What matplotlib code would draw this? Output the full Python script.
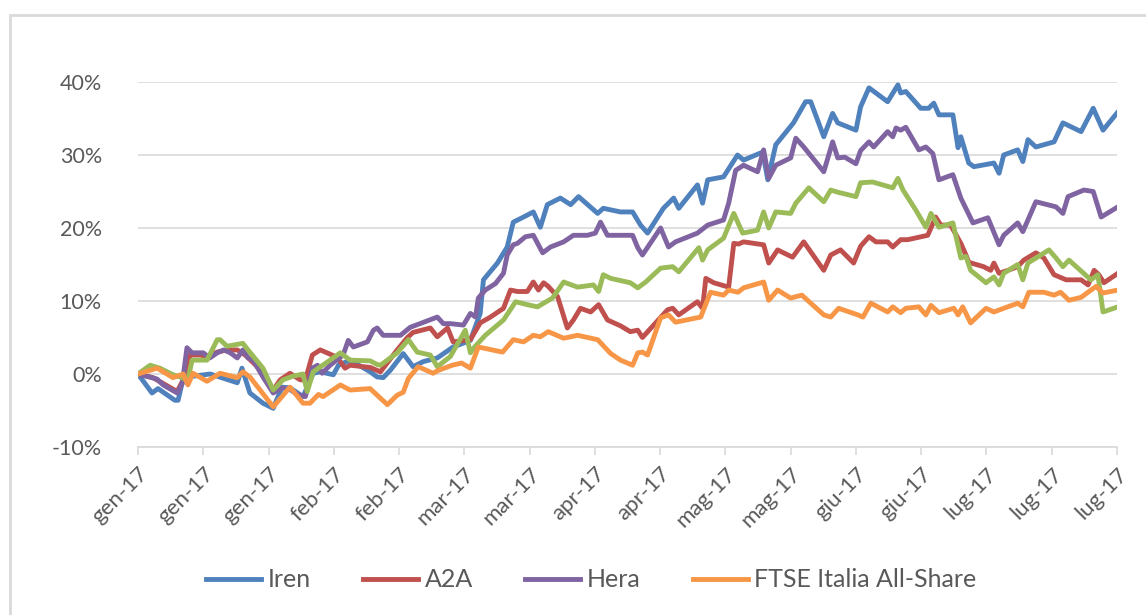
import numpy as np
import matplotlib
matplotlib.use('Agg')
import matplotlib.pyplot as plt
from matplotlib.patches import Rectangle

plt.rcParams['font.family'] = ['Lato', 'DejaVu Sans']

# days since 2 Jan 2017 and returns in %
iren_days = [0, 3, 4.3, 7.9, 8.6, 9.7, 11.8, 15.5, 21.3, 22.3, 24, 26.8, 29, 30.9, 32.6, 35.4, 37.6, 39.1,
             41.9, 43, 45.5, 49.8, 51.3, 52.6, 54.1, 56.9, 59, 61.2, 64.2, 67.6, 71.3, 73.4, 74.1, 77.1,
             79.2, 80.5, 82.7, 84.8, 86.3, 87.8, 90.6, 92.8, 94.5, 98.6, 99.8, 103.5, 106.1, 107.8, 109.3,
             112.7, 114.9, 116, 120, 121.1, 122.2, 125.6, 128.6, 129.9, 134, 135.1, 136.8, 140.6, 143.2,
             144.3, 147.1, 149, 150.1, 154, 155, 156.8, 160.8, 163, 163.6, 164.7, 167.9, 169.6, 170.7,
             171.8, 174.8, 175.9, 176.5, 178.2, 179.3, 183.6, 184.7, 185.7, 188.7, 189.8, 190.9, 192.6,
             196.5, 198.4, 202.3, 204.9, 207, 210.2]
iren = [0, -2.6, -2.0, -3.6, -3.6, -0.6, -0.3, 0, -1.2, 0.8, -2.6, -4.0, -4.7, -1.8, -1.9, -3.1, 0.1, 0.3,
        -0.1, 1.2, 1.9, 0.3, -0.4, -0.5, 0.5, 2.8, 1.0, 1.7, 2.2, 3.7, 4.6, 8.3, 12.9, 15.2,
        17.4, 20.8, 21.5, 22.2, 20.1, 23.2, 24.1, 23.2, 24.3, 22.0, 22.7, 22.2, 22.2, 20.4, 19.3,
        22.7, 24.1, 22.7, 25.9, 23.4, 26.6, 27.0, 30.0, 29.3, 30.4, 26.6, 31.4, 34.4, 37.3,
        37.3, 32.5, 35.7, 34.4, 33.4, 36.6, 39.2, 37.3, 39.6, 38.5, 38.7, 36.4, 36.4, 37.1,
        35.5, 35.5, 31.0, 32.5, 28.9, 28.4, 28.9, 27.5, 30.0, 30.7, 29.1, 32.1, 31.1,
        31.8, 34.4, 33.2, 36.4, 33.4, 35.9]

a2a_days = [0, 3.2, 5.4, 8.4, 9.7, 11.2, 13.3, 14.8, 17, 19.1, 21.3, 23, 25.6, 29, 30.5, 32.6, 34.8, 35.9,
            37.4, 39.1, 42.7, 44.4, 45.5, 49.8, 52, 55.6, 57.8, 59, 62.7, 64.2, 66.4, 67.6, 71.3, 73.4,
            75.6, 78.4, 79.9, 81.4, 83.5, 84.8, 85.9, 87, 88, 90, 92.1, 93.4, 94.9, 97.1, 98.8, 100.7,
            103.5, 105.6, 107.2, 108.2, 113.6, 114.7, 116, 120, 121.1, 121.8, 123.5, 126.7, 127.8,
            128.8, 129.9, 134.2, 135.3, 137.2, 140.4, 142.8, 147.1, 148.6, 150.7, 153.5, 155, 156.8,
            158.3, 160.8, 161.9, 163.6, 165.1, 169.4, 171.1, 172.2, 174.3, 176.5, 177.6, 178.2,
            181.4, 182.9, 183.6, 184.7, 186.6, 188.7, 190, 192.6, 194.3, 196.5, 199.1, 202.3,
            203.8, 205.1, 206.1, 207.2, 210.2]
a2a = [0, -0.5, -1.3, -2.4, -0.8, 2.6, 2.6, 2.4, 3.0, 3.3, 3.3, 2.6, 1.0, -2.2, -0.8, 0.1, -0.8, -0.8,
       2.6, 3.3, 2.3, 0.8, 1.2, 0.9, 0.3, 3.3, 5.0, 5.7, 6.3, 5.1, 6.3, 4.4, 4.7, 7.0,
       7.8, 9.0, 11.5, 11.3, 11.3, 12.6, 11.5, 12.5, 12.0, 10.6, 6.3, 7.4, 9.0, 8.5, 9.5, 7.4,
       6.6, 5.8, 6.0, 5.0, 8.8, 9.0, 8.1, 9.9, 9.0, 13.1, 12.5, 11.9, 17.9,
       17.8, 18.1, 17.7, 15.2, 17.0, 16.0, 18.1, 14.2, 16.3, 17.0, 15.2, 17.5, 18.8,
       18.1, 18.1, 17.4, 18.4, 18.4, 19.0, 21.5, 20.4, 20.4, 17.9, 16.3, 15.3,
       14.7, 14.2, 15.2, 13.8, 14.2, 14.7, 15.6, 16.6, 15.9, 13.6, 12.9, 12.9,
       12.2, 14.2, 13.6, 12.5, 13.8]

hera_days = [0, 3, 4.1, 5.4, 8.4, 9.5, 10.5, 11.6, 14, 15.4, 17, 18.4, 19.8, 21.3, 22.5, 23.6, 24.7,
             26.8, 29, 30.9, 32.6, 34.1, 35.9, 37.4, 38.5, 39.5, 41.2, 44, 45.1, 46.2, 49.2, 50.5,
             51.3, 52.6, 56.3, 58.4, 60.5, 64.2, 65.5, 67, 69.8, 71.3, 72.4, 73, 74.5, 76.7, 78.4,
             79.2, 80.5, 81.4, 83.1, 84.8, 86.8, 88.5, 91.3, 93.4, 96.4, 98.1, 99.2, 100.7, 103.5,
             106.1, 107.2, 108.2, 112.1, 113.8, 115.3, 120, 122.2, 125.6, 126.7, 128.2, 129.9,
             132.9, 134.2, 135.3, 136.8, 140, 141.1, 142.8, 147.1, 149, 150.1, 151.6, 154, 155,
             156.8, 157.8, 160.8, 161.9, 162.6, 163.6, 164.7, 167.5, 169, 170.5, 171.8, 174.8,
             176.5, 179.1, 182.3, 184.7, 185.7, 188.7, 189.8, 192.6, 196.9, 198.4, 199.5, 202.9,
             204.9, 206.6, 210.2]
hera = [0, -0.5, -0.7, -1.5, -2.6, -1.3, 3.6, 2.9, 2.9, 2.2, 2.9, 3.3, 2.9, 2.2, 3.3, 2.2, 1.9,
        -0.4, -2.6, -1.9, -2.1, -2.8, -3.1, 0.8, 1.2, 0.1, 1.2, 2.6, 4.6, 3.7, 4.4, 6.0,
        6.3, 5.3, 5.3, 6.4, 6.9, 7.8, 6.9, 6.9, 6.7, 8.3, 7.8, 10.4, 11.5, 12.4, 13.8,
        16.3, 17.7, 17.9, 18.8, 19.0, 16.6, 17.4, 18.1, 19.0, 19.0, 19.3, 20.8, 19.0, 19.0,
        19.0, 17.3, 16.3, 20.0, 17.4, 18.1, 19.3, 20.4, 21.1, 23.4, 27.9, 28.6,
        27.7, 30.7, 26.8, 28.6, 29.6, 32.3, 31.1, 27.7, 31.8, 29.6, 29.7, 28.8, 30.6,
        31.8, 31.1, 33.2, 32.5, 33.7, 33.4, 33.8, 30.7, 31.1, 30.2, 26.6, 27.3,
        24.1, 20.7, 21.4, 17.7, 19.0, 20.7, 19.5, 23.6, 22.9, 22.0, 24.3, 25.2,
        25.0, 21.5, 22.9]

green_days = [0, 2.6, 4.7, 7.5, 9, 10.7, 11.6, 14.8, 17, 17.6, 19.1, 22.5, 23.6, 26.8, 29, 31.1, 33.2,
              35.4, 36.3, 37.6, 41.2, 43.4, 45.5, 49.8, 51.3, 52, 55.6, 58, 59.9, 62.7, 64.2, 67,
              70.2, 71.3, 72.2, 74.5, 78.4, 81, 83.5, 85.7, 88.9, 91.3, 94.3, 97.7, 98.8, 99.8,
              101.4, 105.6, 107.2, 108.9, 112.1, 114.7, 116, 120.3, 121.1, 122.2, 125.6, 127.8,
              129.7, 132.9, 134.2, 135.3, 136.8, 140, 141.1, 143.9, 147.1, 148.6, 150.1, 154, 155,
              157.6, 161.9, 163, 164.1, 166.8, 169, 170.1, 171.8, 174.8, 176.5, 177.6, 178.6,
              181.9, 183.6, 184.7, 185.7, 188.7, 189.8, 190.9, 195.4, 196.9, 198.4, 199.7, 204.4,
              205.9, 207, 210.2]
green = [0, 1.2, 0.8, -0.1, -0.4, -0.8, 1.9, 1.9, 4.7, 4.7, 3.8, 4.2, 3.3, 0.8, -2.2, -0.8, -0.3,
         0.0, -2.4, 0.3, 1.9, 2.9, 1.9, 1.8, 1.3, 1.2, 2.9, 4.7, 3.0, 2.6, 1.0, 2.4,
         6.0, 2.9, 3.7, 5.3, 7.4, 9.9, 9.5, 9.2, 10.4, 12.6, 11.9, 12.2, 11.3, 13.6,
         13.1, 12.5, 11.8, 12.6, 14.5, 14.7, 14.0, 17.3, 15.6, 17.0, 18.6, 22.0,
         19.3, 19.7, 22.2, 20.0, 22.2, 22.0, 23.4, 25.5, 23.6, 25.2, 24.9, 24.3, 26.2,
         26.3, 25.5, 26.8, 25.2, 22.5, 20.1, 22.0, 20.1, 20.7, 15.9, 16.1, 14.2,
         12.5, 13.3, 12.2, 13.8, 15.0, 12.9, 15.2, 17.0, 15.9, 14.7, 15.6, 12.9,
         13.6, 8.5, 9.2]

ftse_days = [0, 4.1, 7.5, 9.7, 10.7, 11.8, 14.8, 17.6, 21.3, 22.5, 24, 29, 32.6, 35.4, 36.9, 38.7, 39.7,
             43.4, 45.5, 49.8, 51.3, 53.5, 55.6, 56.9, 58, 60.1, 63.3, 64.4, 67.4, 69.4, 71.3, 73,
             78.2, 80.5, 82.7, 84.8, 86.3, 88, 91.3, 94.3, 98.6, 101.4, 103.5, 106.1, 107.2, 108.2,
             109.3, 112.1, 113.8, 115.3, 120.7, 122.8, 125.6, 126.7, 128.7, 129.9, 134.2, 135.3,
             137.2, 140, 142.4, 147.1, 148.6, 150.3, 154.4, 155.5, 157.2, 160.8, 161.9, 163.6,
             164.7, 167.5, 169, 170.1, 171.8, 175, 175.9, 176.9, 178.6, 181.9, 183.6, 185.7,
             188.7, 189.8, 191.1, 194.3, 196.5, 197.9, 199.7, 202.3, 205.5, 207, 210.2]
ftse = [0, 0.8, -0.5, 0.0, -1.5, 0.1, -1.0, 0.1, -0.5, 0.3, -0.4, -4.5, -1.8, -4.0, -4.0, -2.8, -3.1,
        -1.5, -2.2, -2.0, -2.9, -4.2, -2.9, -2.5, -0.6, 1.0, 0.1, 0.5, 1.2, 1.5, 0.8, 3.7,
        3.0, 4.7, 4.4, 5.3, 5.1, 5.8, 4.9, 5.3, 4.7, 2.8, 1.9, 1.2, 2.9, 3.0,
        2.6, 7.7, 8.1, 7.1, 7.8, 11.2, 10.8, 11.5, 11.2, 11.8, 12.6, 10.1,
        11.5, 10.4, 10.8, 8.1, 7.8, 9.0, 8.1, 7.8, 9.7, 8.5, 9.2, 8.4,
        9.0, 9.2, 8.1, 9.4, 8.4, 9.0, 8.1, 9.2, 7.0, 9.0, 8.5, 9.0,
        9.7, 9.2, 11.2, 11.2, 10.8, 11.2, 10.1, 10.5, 12.0, 11.1, 11.5]

tick_days = list(range(0, 211, 14))
tick_labels = ['gen-17', 'gen-17', 'gen-17', 'feb-17', 'feb-17', 'mar-17', 'mar-17', 'apr-17',
               'apr-17', 'mag-17', 'mag-17', 'giu-17', 'giu-17', 'lug-17', 'lug-17', 'lug-17']

fig = plt.figure(figsize=(11.46, 6.15), dpi=100)
fig.patches.append(Rectangle((10 / 1146, -0.1), 1.2, 1 - 15 / 615 + 0.1, transform=fig.transFigure,
                             fill=False, edgecolor='#d9d9d9', linewidth=2))
ax = fig.add_axes([138 / 1146, 1 - 447 / 615, (1117 - 138) / 1146, (447 - 82) / 615])

lw = 3.5
ax.plot(iren_days, iren, color='#4F81BD', lw=lw, label='Iren')
ax.plot(a2a_days, a2a, color='#C0504D', lw=lw, label='A2A')
ax.plot(hera_days, hera, color='#8064A2', lw=lw, label='Hera')
ax.plot(green_days, green, color='#9BBB59', lw=lw)
ax.plot(ftse_days, ftse, color='#F79646', lw=lw, label='FTSE Italia All-Share')

ax.set_xlim(0, 210)
ax.set_ylim(-10, 40)
ax.set_yticks(np.arange(-10, 41, 10))
ax.set_yticklabels([f'{v}%' for v in range(-10, 41, 10)])
ax.yaxis.grid(True, color='#d9d9d9', lw=1.2)
ax.set_axisbelow(True)
ax.tick_params(axis='y', length=0, pad=26, labelsize=15.5, labelcolor='#595959')

ax.set_xticks(tick_days)
ax.set_xticklabels(tick_labels, rotation=45, ha='right', rotation_mode='anchor')
ax.tick_params(axis='x', length=6, color='#d9d9d9', width=1.2, pad=6, labelsize=16, labelcolor='#595959')

for s in ['top', 'right', 'left']:
    ax.spines[s].set_visible(False)
ax.spines['bottom'].set_color('#d9d9d9')
ax.spines['bottom'].set_linewidth(1.2)

fig.legend(loc='center', bbox_to_anchor=(0.516, 0.057), ncol=4, frameon=False, fontsize=18,
           handlelength=2.2, columnspacing=2.1, handletextpad=0.25, labelcolor='#595959')

fig.savefig('out.png', dpi=100)
